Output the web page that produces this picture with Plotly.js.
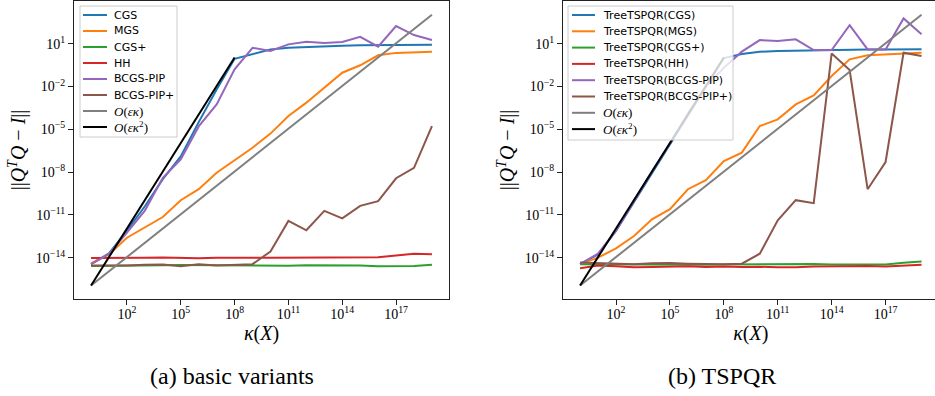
<!DOCTYPE html>
<html>
<head>
<meta charset="utf-8">
<script src="https://cdn.plot.ly/plotly-3.0.1.min.js"></script>
<style>
html,body{margin:0;padding:0;overflow:hidden;background:#fff;width:935px;height:396px}
#plot{width:940px;height:396px}
</style>
</head>
<body>
<div id="plot"></div>
<script>
// condition numbers kappa(X)
const kappa = [1e0,1e1,1e2,1e3,1e4,1e5,1e6,1e7,1e8,1e9,1e10,1e11,1e12,1e13,1e14,1e15,1e16,1e17,1e18,1e19];
const kappaShort = [1e0,1e1,1e2,1e3,1e4,1e5,1e6,1e7,1e8];

// reference lines
const refEpsKappa  = [1.1e-16,1.1e-15,1.1e-14,1.1e-13,1.1e-12,1.1e-11,1.1e-10,1.1e-9,1.1e-8,1.1e-7,1.1e-6,1.1e-5,1.1e-4,1.1e-3,1.1e-2,1.1e-1,1.1e0,1.1e1,1.1e2,1.1e3];
const refEpsKappa2 = [1.1e-16,1.1e-14,1.1e-12,1.1e-10,1.1e-8,1.1e-6,1.1e-4,1.1e-2,1.1e0];

// (a) basic variants  ||Q^T Q - I||
const aCGS     = [3.5e-15,2.0e-14,7.9e-13,4.0e-11,3.2e-9,1.26e-7,3.2e-5,6.3e-3,0.89,1.8,4.0,5.2,6.0,6.6,7.4,7.9,8.1,8.3,8.5,8.5];
const aMGS     = [4.0e-15,1.7e-14,2.5e-13,1.4e-12,7.1e-12,1.07e-10,6.3e-10,9.1e-9,6.8e-8,5.1e-7,5.0e-6,8.5e-5,7.4e-4,8.3e-3,9.3e-2,0.31,1.55,2.3,2.45,2.75];
const aCGSp    = [2.6e-15,2.75e-15,2.8e-15,2.8e-15,2.95e-15,3.0e-15,2.9e-15,2.95e-15,2.8e-15,2.8e-15,2.8e-15,2.7e-15,2.95e-15,3.0e-15,2.95e-15,2.8e-15,2.5e-15,2.5e-15,2.6e-15,3.15e-15];
const aHH      = [9.5e-15,9.3e-15,1.0e-14,1.0e-14,1.02e-14,1.0e-14,8.9e-15,1.0e-14,9.5e-15,1.0e-14,1.0e-14,1.0e-14,9.5e-15,1.0e-14,9.3e-15,1.05e-14,1.05e-14,1.4e-14,1.9e-14,1.75e-14];
const aBCGS    = [3.5e-15,1.8e-14,5.6e-13,2.0e-11,4.0e-9,7.9e-8,1.6e-5,5.6e-4,0.16,5.2,3.1,9.1,13.8,11.2,13.2,30.9,6.2,174,40.7,18.2];
const aBCGSp   = [2.8e-15,2.7e-15,2.8e-15,3.2e-15,3.3e-15,2.5e-15,3.5e-15,2.8e-15,2.95e-15,3.5e-15,2.7e-14,3.8e-12,8.3e-13,1.9e-11,5.75e-12,4.3e-11,9.1e-11,3.7e-9,2.0e-8,1.7e-5];

// (b) TSPQR
const bCGS     = [3.5e-15,1.7e-14,7.4e-13,7.9e-11,7.9e-9,7.9e-7,1.0e-4,1.1e-2,1.0,1.9,2.75,3.1,3.3,3.5,3.6,3.8,4.0,4.0,4.1,4.1];
const bMGS     = [3.5e-15,1.0e-14,4.5e-14,3.3e-13,4.9e-12,2.5e-11,6.3e-10,2.7e-9,6.0e-8,2.3e-7,1.7e-5,5.0e-5,5.6e-4,2.4e-3,5.5e-2,0.81,1.55,1.8,2.1,2.35];
const bCGSp    = [3.5e-15,3.4e-15,3.5e-15,3.4e-15,3.3e-15,3.4e-15,3.3e-15,3.2e-15,3.3e-15,3.4e-15,3.5e-15,3.4e-15,3.55e-15,3.6e-15,3.3e-15,3.2e-15,3.5e-15,3.3e-15,4.4e-15,5.4e-15];
const bHH      = [1.8e-15,2.8e-15,2.5e-15,2.1e-15,2.2e-15,2.4e-15,2.5e-15,2.2e-15,2.4e-15,2.2e-15,2.3e-15,2.1e-15,2.1e-15,2.4e-15,2.5e-15,2.4e-15,2.6e-15,2.4e-15,2.8e-15,3.2e-15];
const bBCGS    = [3.5e-15,1.9e-14,7.9e-13,1.0e-10,1.1e-8,1.0e-6,1.26e-4,1.0e-2,0.21,2.8,18.2,15.5,20.4,3.6,3.6,204,4.0,4.0,603,45.7];
const bBCGSp   = [4.5e-15,4.0e-15,3.5e-15,3.5e-15,4.0e-15,4.2e-15,3.8e-15,3.5e-15,3.5e-15,3.8e-15,1.9e-14,4.2e-12,1.07e-10,6.6e-11,2.1,0.145,6.3e-10,5.1e-8,2.35,1.4];

// labels
const labelsA = ['CGS','MGS','CGS+','HH','BCGS-PIP','BCGS-PIP+'];
const labelsB = ['TreeTSPQR(CGS)','TreeTSPQR(MGS)','TreeTSPQR(CGS+)','TreeTSPQR(HH)','TreeTSPQR(BCGS-PIP)','TreeTSPQR(BCGS-PIP+)'];
const refLabels = ['<i>O</i>(<i>εκ</i>)','<i>O</i>(<i>εκ</i><sup>2</sup>)'];
const colors = ['#1f77b4','#ff7f0e','#2ca02c','#d62728','#9467bd','#8c564b','#7f7f7f','#000000'];
const yTickVals = [1e-14,1e-11,1e-8,1e-5,1e-2,1e1];
const yTickText = ['10<sup>−14</sup>','10<sup>−11</sup>','10<sup>−8</sup>','10<sup>−5</sup>','10<sup>−2</sup>','10<sup>1</sup>'];
const xTickVals = [1e2,1e5,1e8,1e11,1e14,1e17];
const xTickText = ['10<sup>2</sup>','10<sup>5</sup>','10<sup>8</sup>','10<sup>11</sup>','10<sup>14</sup>','10<sup>17</sup>'];

const W = 940, H = 396, MT = 1, MB = 97;
const PH = H - MT - MB;
const px = v => v / W;
const py = v => (MT + PH - v) / PH;

function tr(x, y, color, xa, ya, name) {
  return {x: x, y: y, type: 'scatter', mode: 'lines', name: name,
          line: {color: color, width: 2}, xaxis: xa, yaxis: ya,
          showlegend: false, hoverinfo: 'skip'};
}

const seriesA = [aCGS, aMGS, aCGSp, aHH, aBCGS, aBCGSp];
const seriesB = [bCGS, bMGS, bCGSp, bHH, bBCGS, bBCGSp];
const data = [];
seriesA.forEach((s, i) => data.push(tr(kappa, s, colors[i], 'x', 'y', labelsA[i])));
data.push(tr(kappa, refEpsKappa, colors[6], 'x', 'y', 'O(eps kappa)'));
data.push(tr(kappaShort, refEpsKappa2, colors[7], 'x', 'y', 'O(eps kappa^2)'));
seriesB.forEach((s, i) => data.push(tr(kappa, s, colors[i], 'x2', 'y2', labelsB[i])));
data.push(tr(kappa, refEpsKappa, colors[6], 'x2', 'y2', 'O(eps kappa)'));
data.push(tr(kappaShort, refEpsKappa2, colors[7], 'x2', 'y2', 'O(eps kappa^2)'));

const serif = 'Liberation Serif, Times New Roman, serif';
function xax(domain, anchor) {
  return {domain: domain, anchor: anchor, type: 'log', range: [-0.95, 19.95],
    tickmode: 'array', tickvals: xTickVals, ticktext: xTickText,
    ticks: 'outside', ticklen: 5, tickwidth: 1, tickcolor: '#222',
    ticklabelstandoff: -3,
    showline: true, linecolor: '#222', linewidth: 1, mirror: true,
    showgrid: false, zeroline: false,
    tickfont: {family: serif, size: 14, color: '#000'},
    title: {text: '<i>κ</i>(<i>X</i>)', font: {family: serif, size: 20, color: '#000'}, standoff: 4}};
}
function yax(anchor) {
  return {domain: [0, 1], anchor: anchor, type: 'log', range: [-16.9, 4.0],
    tickmode: 'array', tickvals: yTickVals, ticktext: yTickText,
    ticks: 'outside', ticklen: 5, tickwidth: 1, tickcolor: '#222',
    showline: true, linecolor: '#222', linewidth: 1, mirror: true,
    showgrid: false, zeroline: false,
    tickfont: {family: serif, size: 14, color: '#000'},
    title: {text: '||<i>Q</i><sup><i>T</i></sup><i>Q</i> − <i>I</i>||', font: {family: serif, size: 20, color: '#000'}, standoff: 4}};
}

const shapes = [];
const annotations = [];
function legend(box, lineX0, lineX1, textX, y0, dy, labels) {
  shapes.push({type: 'rect', xref: 'paper', yref: 'paper', layer: 'above',
    x0: px(box[0]), x1: px(box[1]), y0: py(box[2]), y1: py(box[3]),
    fillcolor: 'rgba(255,255,255,0.8)', line: {color: '#cccccc', width: 1}});
  labels.forEach((lab, i) => {
    const yy = py(y0 + dy * i);
    shapes.push({type: 'line', xref: 'paper', yref: 'paper', layer: 'above',
      x0: px(lineX0), x1: px(lineX1), y0: yy, y1: yy, line: {color: colors[i], width: 2}});
    const isMath = i >= 6;
    annotations.push({xref: 'paper', yref: 'paper', x: px(textX), y: yy,
      xanchor: 'left', yanchor: 'middle', showarrow: false, text: lab,
      font: isMath ? {family: serif, size: 13, color: '#000'} : {family: 'DejaVu Sans', size: 11, color: '#000'}});
  });
}
legend([80, 177, 6, 137], 83, 107, 112, 15, 16.0, labelsA.concat(refLabels));
legend([568, 733, 6, 140], 572, 595, 601, 15, 16.3, labelsB.concat(refLabels));

annotations.push({xref: 'paper', yref: 'paper', x: px(232), y: py(376), xanchor: 'center', yanchor: 'middle',
  showarrow: false, text: '(a) basic variants', font: {family: serif, size: 24, color: '#000'}});
annotations.push({xref: 'paper', yref: 'paper', x: px(722), y: py(376), xanchor: 'center', yanchor: 'middle',
  showarrow: false, text: '(b) TSPQR', font: {family: serif, size: 24, color: '#000'}});

const layout = {
  width: W, height: H,
  margin: {l: 0, r: 0, t: MT, b: MB, pad: 0},
  paper_bgcolor: '#fff', plot_bgcolor: '#fff',
  showlegend: false,
  xaxis: xax([74 / W, 449 / W], 'y'),
  yaxis: yax('x'),
  xaxis2: xax([563 / W, 938.6 / W], 'y2'),
  yaxis2: yax('x2'),
  shapes: shapes,
  annotations: annotations
};

Plotly.newPlot('plot', data, layout, {staticPlot: true, displayModeBar: false});
</script>
</body>
</html>
